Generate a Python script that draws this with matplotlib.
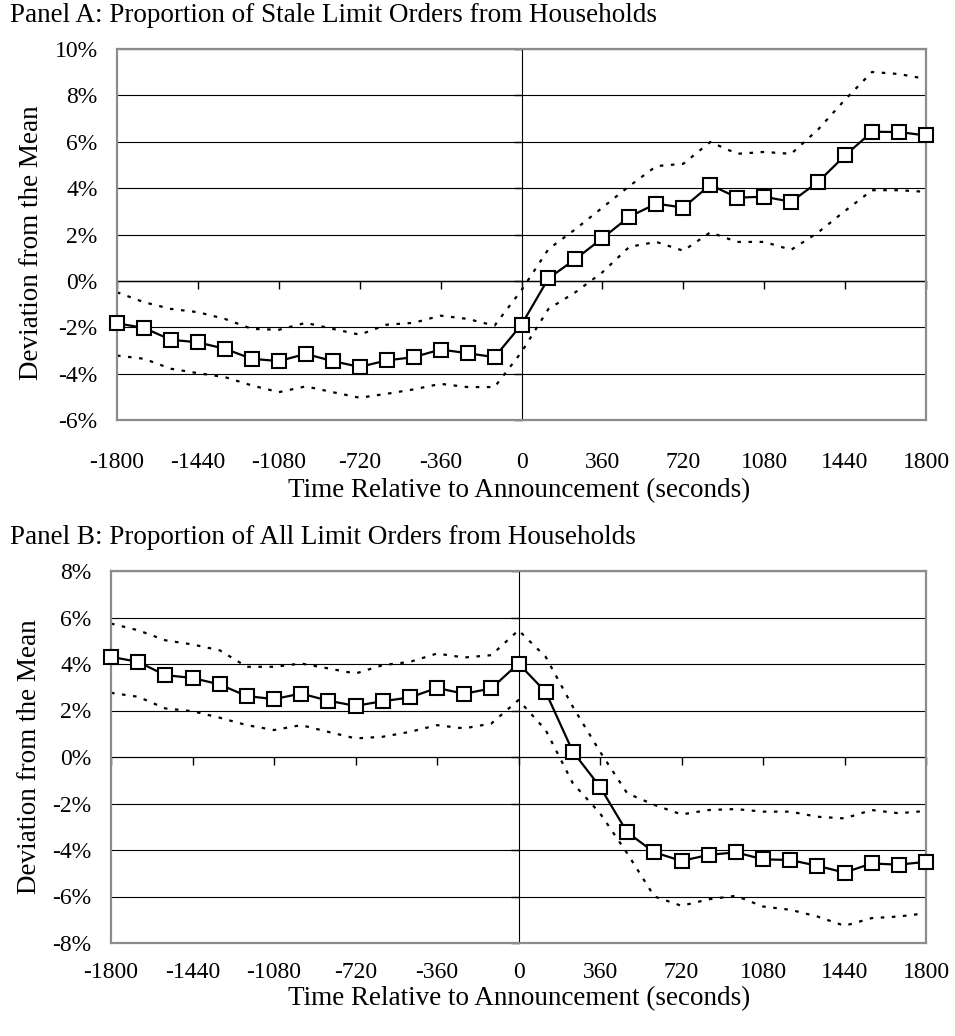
import matplotlib
matplotlib.use("Agg")
import matplotlib.pyplot as plt
from matplotlib.ticker import FuncFormatter, MultipleLocator

# ---- data ----
time_s = [-1800, -1680, -1560, -1440, -1320, -1200, -1080, -960, -840, -720, -600, -480, -360, -240, -120,
          0, 120, 240, 360, 480, 600, 720, 840, 960, 1080, 1200, 1320, 1440, 1560, 1680, 1800]

stale_mean = [-1.83, -2.03, -2.54, -2.65, -2.93, -3.36, -3.46, -3.15, -3.46, -3.71, -3.43, -3.29, -2.96, -3.12, -3.29,
              -1.89, 0.11, 0.94, 1.84, 2.77, 3.33, 3.16, 4.14, 3.59, 3.63, 3.41, 4.27, 5.41, 6.43, 6.42, 6.27]
stale_upper = [-0.49, -0.92, -1.21, -1.35, -1.64, -2.07, -2.11, -1.81, -2.07, -2.32, -1.89, -1.81, -1.50, -1.64, -1.93,
               -0.40, 1.37, 2.23, 3.16, 4.09, 4.95, 5.05, 5.99, 5.48, 5.56, 5.48, 6.53, 7.82, 9.01, 8.92, 8.71]
stale_lower = [-3.22, -3.36, -3.79, -3.98, -4.15, -4.51, -4.80, -4.55, -4.80, -5.04, -4.87, -4.68, -4.44, -4.58, -4.58,
               -3.07, -1.21, -0.49, 0.37, 1.47, 1.68, 1.30, 2.09, 1.68, 1.68, 1.34, 2.09, 3.02, 3.91, 3.91, 3.84]

all_mean = [4.31, 4.09, 3.52, 3.40, 3.12, 2.62, 2.49, 2.73, 2.42, 2.20, 2.40, 2.56, 2.97, 2.72, 2.95,
            4.02, 2.80, 0.23, -1.28, -3.24, -4.10, -4.47, -4.21, -4.10, -4.40, -4.43, -4.68, -4.97, -4.58, -4.63, -4.51]
all_upper = [5.74, 5.45, 5.02, 4.84, 4.59, 3.88, 3.88, 4.02, 3.81, 3.59, 3.95, 4.09, 4.45, 4.28, 4.38,
             5.45, 4.31, 2.16, 0.23, -1.56, -2.06, -2.47, -2.28, -2.24, -2.35, -2.35, -2.57, -2.64, -2.28, -2.42, -2.32]
all_lower = [2.76, 2.59, 2.09, 1.97, 1.69, 1.37, 1.16, 1.37, 1.08, 0.80, 0.87, 1.08, 1.37, 1.23, 1.44,
             2.45, 1.16, -1.13, -2.42, -4.14, -6.00, -6.40, -6.12, -5.97, -6.43, -6.57, -6.86, -7.26, -6.93, -6.86, -6.72]

x_ticks = [-1800, -1440, -1080, -720, -360, 0, 360, 720, 1080, 1440, 1800]

titles = ["Panel A: Proportion of Stale Limit Orders from Households",
          "Panel B: Proportion of All Limit Orders from Households"]
xlabel = "Time Relative to Announcement (seconds)"
ylabel = "Deviation from the Mean"

FONT = "Liberation Serif"
FS = 17
plt.rcParams['font.family'] = [FONT, 'DejaVu Serif']

W, H = 955, 1036
fig = plt.figure(figsize=(W / 100, H / 100), dpi=100)


def px_axes(left, top, right, bottom):
    return fig.add_axes([left / W, 1 - bottom / H, (right - left) / W, (bottom - top) / H])


def pct(v, _):
    return f"{v:.0f}%"


def draw_panel(ax, mean, upper, lower, ylim, title, title_y, ylab_x, ylab_y, xlab_y, xpad):
    ax.set_xlim(-1800, 1800)
    ax.set_ylim(*ylim)
    ax.yaxis.set_major_locator(MultipleLocator(2))
    ax.yaxis.set_major_formatter(FuncFormatter(pct))
    ax.set_xticks(x_ticks)
    ax.set_xticklabels([str(t) for t in x_ticks])
    ax.tick_params(axis='both', length=0, labelsize=FS)
    ax.tick_params(axis='x', pad=xpad)
    ax.tick_params(axis='y', pad=14)
    ax.grid(axis='y', color='black', linewidth=0.8)
    ax.set_axisbelow(True)
    for s in ax.spines.values():
        s.set_color('#8c8c8c')
        s.set_linewidth(1.6)

    # zero axes with tick marks
    y0 = (0 - ylim[0]) / (ylim[1] - ylim[0])
    sx = ax.secondary_xaxis(y0)
    sx.set_xticks(x_ticks)
    sx.tick_params(axis='x', direction='out', length=6, width=1, labelbottom=False, labeltop=False,
                   bottom=True, top=False)
    sx.spines['bottom'].set_color('black')
    sx.spines['bottom'].set_linewidth(1)
    sy = ax.secondary_yaxis(0.5)
    sy.yaxis.set_major_locator(MultipleLocator(2))
    sy.tick_params(axis='y', direction='out', length=6, width=1, labelleft=False, labelright=False,
                   left=True, right=False)
    sy.spines['left'].set_color('black')
    sy.spines['left'].set_linewidth(1)

    dot = (0, (1.6, 3.4))
    ax.plot(time_s, upper, color='black', linewidth=1.6, linestyle=dot, clip_on=False)
    ax.plot(time_s, lower, color='black', linewidth=1.6, linestyle=dot, clip_on=False)
    ax.plot(time_s, mean, color='black', linewidth=1.6, marker='s', markersize=9.5,
            markerfacecolor='white', markeredgecolor='black', markeredgewidth=1.5, clip_on=False, zorder=5)

    fig.text(10 / W, 1 - title_y / H, title, fontsize=19.5, ha='left', va='center')
    fig.text(ylab_x / W, 1 - ylab_y / H, ylabel, fontsize=19.5, rotation=90, ha='center', va='center')
    fig.text(519 / W, 1 - xlab_y / H, xlabel, fontsize=19.5, ha='center', va='center')


axA = px_axes(117, 49, 926, 420)
draw_panel(axA, stale_mean, stale_upper, stale_lower, (-6, 10), titles[0], 15, 32, 243, 491, 23)

axB = px_axes(111, 571, 926, 943)
draw_panel(axB, all_mean, all_upper, all_lower, (-8, 8), titles[1], 538, 30, 757, 999, 14)

fig.savefig("out.png", dpi=100)
